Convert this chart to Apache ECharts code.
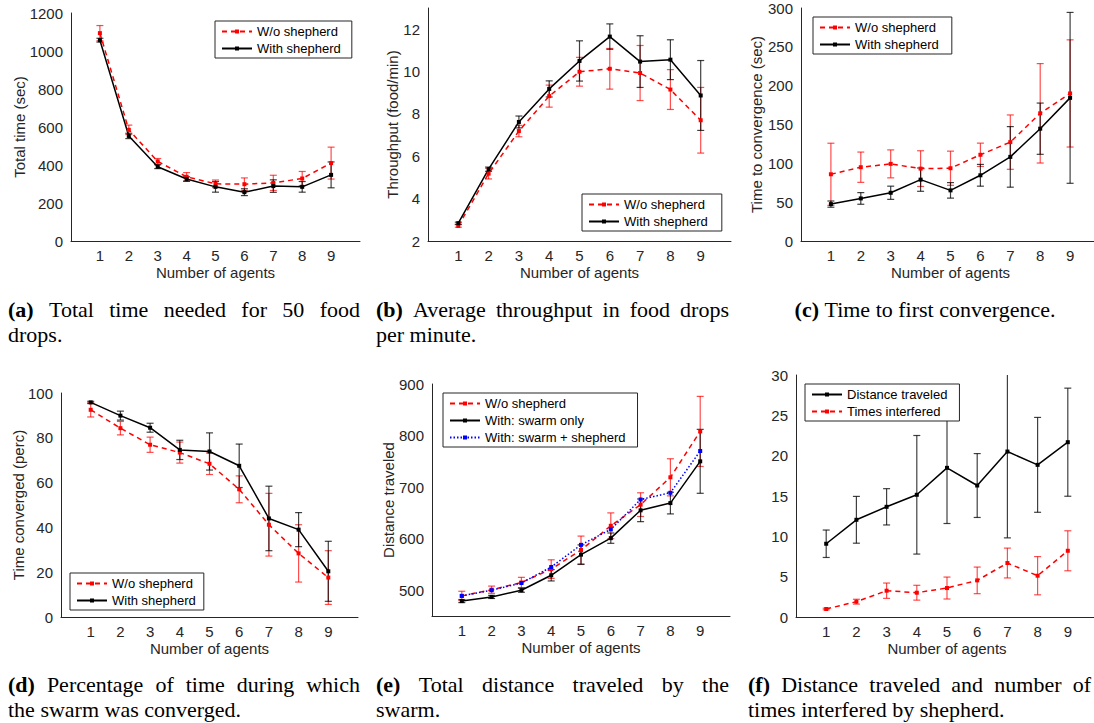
<!DOCTYPE html>
<html><head><meta charset="utf-8">
<script src="https://cdn.jsdelivr.net/npm/echarts@6/dist/echarts.min.js"></script>
<style>html,body{margin:0;padding:0;background:#fff;}#c{width:1094px;height:723px;}</style>
</head><body><div id="c"></div>
<script>
// ---------------- DATA ----------------
const agents = [1, 2, 3, 4, 5, 6, 7, 8, 9];

// (a) Total time (sec)
const totalTimeWo = [1094, 585, 419, 338, 301, 299, 306, 329, 410];
const totalTimeWoErr = [40, 25, 15, 22, 20, 33, 40, 37, 84];
const totalTimeWith = [1057, 553, 391, 326, 285, 257, 289, 285, 348];
const totalTimeWithErr = [10, 14, 10, 12, 28, 18, 33, 28, 68];

// (b) Throughput (food/min)
const thrWo = [2.71, 5.18, 7.19, 8.84, 9.99, 10.13, 9.93, 9.15, 7.70];
const thrWoErr = [0.06, 0.25, 0.27, 0.52, 0.68, 0.96, 1.30, 0.94, 1.55];
const thrWith = [2.84, 5.39, 7.62, 9.18, 10.50, 11.65, 10.47, 10.56, 8.87];
const thrWithErr = [0.05, 0.10, 0.28, 0.38, 0.95, 0.60, 1.22, 0.94, 1.65];

// (c) Time to convergence (sec)
const convWo = [85.9, 95.0, 99.3, 93.2, 93.7, 111.0, 127.3, 164.4, 190.0];
const convWoErr = [40, 19.5, 18, 23, 22, 15, 35, 64, 69];
const convWith = [47.5, 54.8, 62.1, 79.0, 65.2, 84.6, 108.3, 144.6, 184.3];
const convWithErr = [4, 7.5, 8.5, 15, 10, 14, 39, 33, 110];

// (d) Time converged (perc)
const percWo = [92.5, 84.3, 76.9, 73.4, 68.4, 57.0, 41.2, 28.4, 17.6];
const percWoErr = [3.2, 3.0, 3.4, 4.7, 4.8, 6.0, 14.0, 12.8, 12.0];
const percWith = [95.8, 89.9, 84.5, 74.6, 73.9, 67.5, 44.0, 39.0, 20.4];
const percWithErr = [0.5, 2.0, 2.0, 4.3, 8.3, 9.7, 14.4, 7.6, 13.4];

// (e) Distance traveled
const distWo = [489, 501, 515, 541, 578, 625, 666, 719, 808];
const distWoErr = [9, 7, 10, 18, 27, 25, 23, 36, 68];
const distSwarm = [479, 487, 500, 529, 569, 601, 655, 669, 750];
const distSwarmErr = [3, 3, 4, 11, 19, 10, 22, 21, 62];
const distSwarmShep = [489, 500, 514, 545, 588, 618, 676, 689, 770];

// (f) Distance traveled / times interfered by shepherd
const shepDist = [9.08, 12.05, 13.66, 15.15, 18.49, 16.3, 20.51, 18.86, 21.67];
const shepDistErr = [1.7, 2.9, 2.25, 7.35, 6.9, 3.96, 10.7, 5.88, 6.7];
const interfered = [0.99, 1.9, 3.26, 3.01, 3.59, 4.54, 6.69, 5.12, 8.21];
const interferedErr = [0.1, 0.3, 0.95, 0.92, 1.36, 1.65, 1.85, 2.37, 2.48];

// Text
const xAxisTitle = 'Number of agents';
const yTitles = ['Total time (sec)', 'Throughput (food/min)', 'Time to convergence (sec)', 'Time converged (perc)', 'Distance traveled', ''];
const captionLabels = ['(a)', '(b)', '(c)', '(d)', '(e)', '(f)'];
const captionLine1 = ['Total time needed for 50 food', 'Average throughput in food drops', 'Time to first convergence.',
  'Percentage of time during which', 'Total distance traveled by the', 'Distance traveled and number of'];
const captionLine2 = ['drops.', 'per minute.', '', 'the swarm was converged.', 'swarm.', 'times interfered by shepherd.'];

// ---------------- STYLE / LAYOUT ----------------
const FONT = '"Liberation Sans", Arial, Helvetica, sans-serif';
const SERIF = '"Liberation Serif", "Times New Roman", serif';
const AXIS_COLOR = '#262626';
const RED = '#ff0000', BLACK = '#000000', BLUE = '#0000ff';
const RED_ERR = 'rgba(255,0,0,0.7)', BLACK_ERR = 'rgba(0,0,0,0.75)';
const DASH = [5, 4], DOT = [1.5, 2];

const grids = [
  {left: 71, top: 13, width: 289, height: 228},
  {left: 428, top: 8, width: 303, height: 233},
  {left: 801, top: 8, width: 299, height: 233},
  {left: 61, top: 393, width: 297, height: 224},
  {left: 432, top: 384, width: 298, height: 232},
  {left: 796, top: 375, width: 302, height: 242}
];
const yCfg = [
  {min: 0, max: 1200, interval: 200, show: v => true, gap: 44},
  {min: 2, max: 13, interval: 2, show: v => v % 2 === 0 && v <= 12, gap: 28},
  {min: 0, max: 300, interval: 50, show: v => true, gap: 37},
  {min: 0, max: 100, interval: 20, show: v => true, gap: 35},
  {min: 450, max: 900, interval: 50, show: v => v % 100 === 0, gap: 36},
  {min: 0, max: 30, interval: 5, show: v => true, gap: 30}
];
const legendPos = [
  {left: 215, top: 21, padR: 11},
  {left: 582, top: 194, padR: 14},
  {left: 813, top: 17, padR: 13},
  {left: 70, top: 573, padR: 8},
  {left: 443, top: 393, padR: 12},
  {left: 805, top: 384, padR: 12}
];

function lineSeries(name, idx, values, color, dash, z) {
  return {
    type: 'line', name: name, xAxisIndex: idx, yAxisIndex: idx,
    data: agents.map((a, i) => [a, values[i]]),
    symbol: 'rect', symbolSize: 4, showSymbol: true, animation: false,
    lineStyle: {color: color, width: 1.5, type: dash},
    itemStyle: {color: color}, z: z || 3, emphasis: {disabled: true}
  };
}
function errSeries(idx, means, errs, color, z) {
  return {
    type: 'custom', name: 'err', xAxisIndex: idx, yAxisIndex: idx, clip: true, animation: false,
    data: agents.map((a, i) => [a, means[i] - errs[i], means[i] + errs[i]]),
    encode: {x: 0, y: [1, 2]}, z: z || 2, silent: true,
    renderItem: function (params, api) {
      const lo = api.coord([api.value(0), api.value(1)]);
      const hi = api.coord([api.value(0), api.value(2)]);
      const hw = 3.5;
      const st = {stroke: color, lineWidth: 1.2};
      return {type: 'group', children: [
        {type: 'line', shape: {x1: lo[0], y1: lo[1], x2: hi[0], y2: hi[1]}, style: st},
        {type: 'line', shape: {x1: lo[0] - hw, y1: lo[1], x2: lo[0] + hw, y2: lo[1]}, style: st},
        {type: 'line', shape: {x1: hi[0] - hw, y1: hi[1], x2: hi[0] + hw, y2: hi[1]}, style: st}
      ]};
    }
  };
}

const series = [
  errSeries(0, totalTimeWo, totalTimeWoErr, RED_ERR), errSeries(0, totalTimeWith, totalTimeWithErr, BLACK_ERR),
  lineSeries('W/o shepherd', 0, totalTimeWo, RED, DASH), lineSeries('With shepherd', 0, totalTimeWith, BLACK, 'solid'),

  errSeries(1, thrWo, thrWoErr, RED_ERR), errSeries(1, thrWith, thrWithErr, BLACK_ERR),
  lineSeries('W/o shepherd', 1, thrWo, RED, DASH), lineSeries('With shepherd', 1, thrWith, BLACK, 'solid'),

  errSeries(2, convWo, convWoErr, RED_ERR), errSeries(2, convWith, convWithErr, BLACK_ERR),
  lineSeries('W/o shepherd', 2, convWo, RED, DASH), lineSeries('With shepherd', 2, convWith, BLACK, 'solid'),

  errSeries(3, percWo, percWoErr, RED_ERR), errSeries(3, percWith, percWithErr, BLACK_ERR),
  lineSeries('W/o shepherd', 3, percWo, RED, DASH), lineSeries('With shepherd', 3, percWith, BLACK, 'solid'),

  errSeries(4, distWo, distWoErr, RED_ERR), errSeries(4, distSwarm, distSwarmErr, BLACK_ERR),
  lineSeries('W/o shepherd', 4, distWo, RED, DASH), lineSeries('With: swarm only', 4, distSwarm, BLACK, 'solid'),
  lineSeries('With: swarm + shepherd', 4, distSwarmShep, BLUE, DOT),

  errSeries(5, shepDist, shepDistErr, BLACK_ERR), errSeries(5, interfered, interferedErr, RED_ERR),
  lineSeries('Distance traveled', 5, shepDist, BLACK, 'solid'), lineSeries('Times interfered', 5, interfered, RED, DASH)
];

const legendData = [
  ['W/o shepherd', 'With shepherd'], ['W/o shepherd', 'With shepherd'], ['W/o shepherd', 'With shepherd'],
  ['W/o shepherd', 'With shepherd'], ['W/o shepherd', 'With: swarm only', 'With: swarm + shepherd'],
  ['Distance traveled', 'Times interfered']
];

const xAxes = grids.map((g, i) => ({
  gridIndex: i, type: 'value', min: 0, max: 10, interval: 1,
  axisLine: {onZero: false, lineStyle: {color: AXIS_COLOR, width: 1}},
  axisTick: {show: false}, splitLine: {show: false},
  axisLabel: {color: AXIS_COLOR, fontSize: 15, fontFamily: FONT, margin: 7,
    formatter: v => (v >= 1 && v <= 9) ? String(v) : ''},
  name: xAxisTitle, nameLocation: 'middle', nameGap: 24, nameMoveOverlap: false,
  nameTextStyle: {color: AXIS_COLOR, fontSize: 15, fontFamily: FONT}
}));
const yAxes = grids.map((g, i) => ({
  gridIndex: i, type: 'value', min: yCfg[i].min, max: yCfg[i].max, interval: yCfg[i].interval,
  axisLine: {show: true, onZero: false, lineStyle: {color: AXIS_COLOR, width: 1}},
  axisTick: {show: false}, splitLine: {show: false},
  axisLabel: {color: AXIS_COLOR, fontSize: 15, fontFamily: FONT, margin: 8, showMaxLabel: true,
    formatter: v => yCfg[i].show(v) ? String(v) : ''},
  name: yTitles[i], nameLocation: 'middle', nameGap: yCfg[i].gap, nameMoveOverlap: false,
  nameTextStyle: {color: AXIS_COLOR, fontSize: 15, fontFamily: FONT}
}));
const legends = legendData.map((d, i) => ({
  data: d, orient: 'vertical', left: legendPos[i].left, top: legendPos[i].top,
  padding: [4, legendPos[i].padR, 3, 6], itemGap: 4, itemWidth: 30, itemHeight: 5, itemTextGap: 3,
  borderColor: '#262626', borderWidth: 1, borderRadius: 0, backgroundColor: '#ffffff',
  textStyle: {color: '#000', fontSize: 13, fontFamily: FONT}, selectedMode: false, z: 10
}));

// -------- captions (justified, Times-like) --------
const CAP_SIZE = 22;
const mctx = document.createElement('canvas').getContext('2d');
function tw(s, bold) { mctx.font = (bold ? 'bold ' : '') + CAP_SIZE + 'px "Liberation Serif"'; return mctx.measureText(s).width; }
function captionLine(label, text, x0, x1, baseline, mode) {
  const items = [];
  if (label) items.push({s: label, b: true});
  text.split(' ').filter(w => w).forEach(w => items.push({s: w, b: false}));
  const widths = items.map(it => tw(it.s, it.b));
  const total = widths.reduce((a, b) => a + b, 0);
  let gap = tw(' ', false);
  let x = x0;
  if (mode === 'justify' && items.length > 1) gap = (x1 - x0 - total) / (items.length - 1);
  else if (mode === 'center') x = (x0 + x1) / 2 - (total + gap * (items.length - 1)) / 2;
  return items.map((it, i) => {
    const el = {type: 'text', x: x, y: baseline - 7.5, silent: true,
      style: {text: it.s, fill: '#000', fontSize: CAP_SIZE, fontFamily: SERIF, fontWeight: it.b ? 'bold' : 'normal',
        align: 'left', verticalAlign: 'middle'}};
    x += widths[i] + gap;
    return el;
  });
}
const capCols = [[8, 360], [376, 729], [748, 1102], [8, 360], [376, 729], [748, 1091]];
const capBase = [317, 317, 317, 692, 692, 692];
let graphics = [];
for (let i = 0; i < 6; i++) {
  const [x0, x1] = capCols[i];
  graphics = graphics.concat(captionLine(captionLabels[i], captionLine1[i], x0, x1, capBase[i], i === 2 ? 'center' : 'justify'));
  if (captionLine2[i]) graphics = graphics.concat(captionLine(null, captionLine2[i], x0, x1, capBase[i] + 25, 'left'));
}

const chart = echarts.init(document.getElementById('c'), null, {renderer: 'svg', width: 1094, height: 723});
chart.setOption({
  animation: false, backgroundColor: '#ffffff',
  grid: grids.map(g => Object.assign({outerBoundsMode: 'none', containLabel: false}, g)),
  xAxis: xAxes, yAxis: yAxes, legend: legends, series: series,
  graphic: {elements: graphics}
});
</script></body></html>
